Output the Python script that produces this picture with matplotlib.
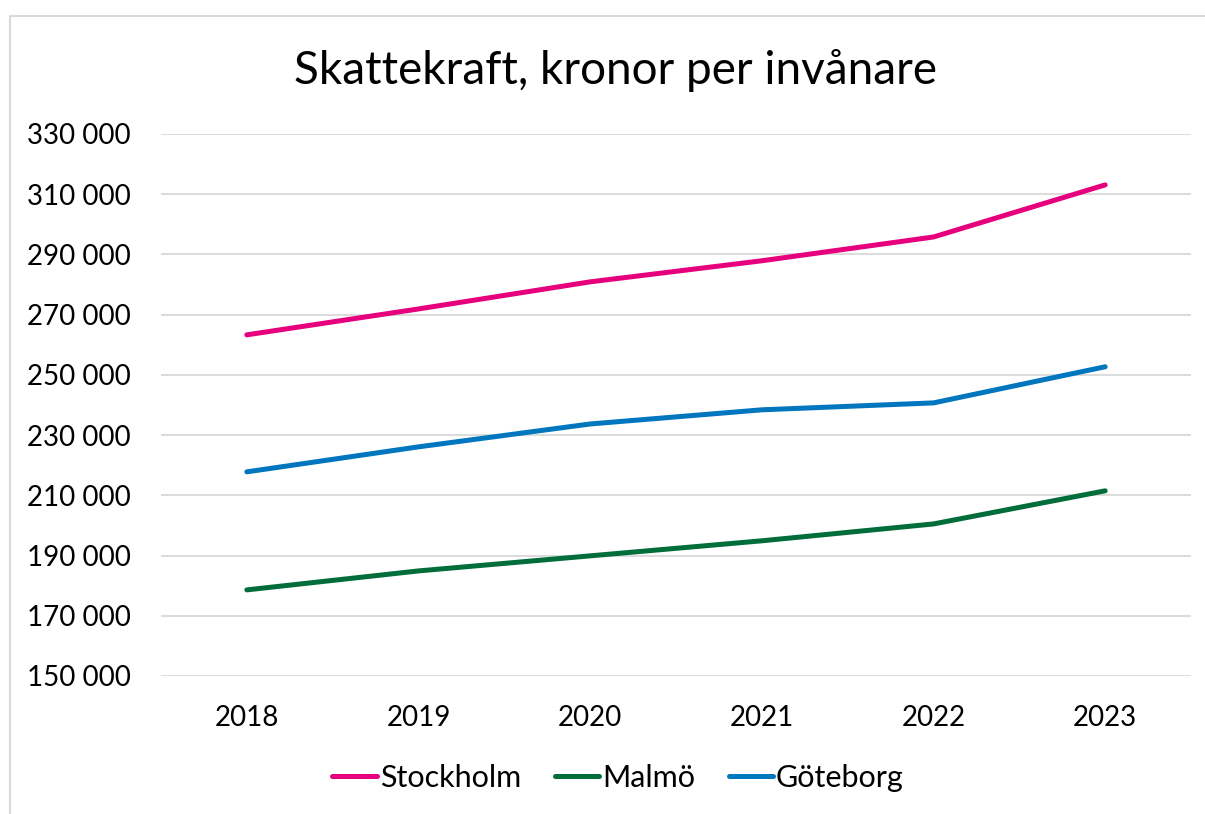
import matplotlib.pyplot as plt
from matplotlib.patches import Rectangle
from matplotlib.ticker import FuncFormatter

years = ["2018", "2019", "2020", "2021", "2022", "2023"]
stockholm = [263300, 271900, 280900, 287900, 295800, 313100]
malmo = [178600, 184900, 189900, 194900, 200500, 211500]
goteborg = [217800, 226100, 233700, 238400, 240700, 252700]

plt.rcParams['font.family'] = ['Lato', 'DejaVu Sans']

fig = plt.figure(figsize=(12.05, 8.14), dpi=100)
ax = fig.add_axes([161/1205, 1-676/814, 1030/1205, 542/814])

# chart frame (cropped on right/bottom like the original)
fig.patches.append(Rectangle((10/1205, -0.1), 1.2, 1.1 - 16/814,
                             transform=fig.transFigure, fill=False,
                             edgecolor='#D9D9D9', linewidth=1.5))

x = range(len(years))
ax.plot(x, stockholm, color='#E6007E', lw=3.6, label='Stockholm', solid_capstyle='round')
ax.plot(x, malmo, color='#006D3B', lw=3.6, label='Malmö', solid_capstyle='round')
ax.plot(x, goteborg, color='#0076BF', lw=3.6, label='Göteborg', solid_capstyle='round')

ax.set_xlim(-0.5, len(years) - 0.5)
ax.set_ylim(150000, 330000)
ax.set_yticks(range(150000, 330001, 20000))
ax.yaxis.set_major_formatter(FuncFormatter(lambda v, p: f"{int(v):,}".replace(",", " ")))
ax.set_xticks(list(x))
ax.set_xticklabels(years)
ax.tick_params(length=0, labelsize=20, colors='black')
ax.tick_params(axis='y', pad=22)
ax.tick_params(axis='x', pad=21)
ax.grid(axis='y', color='#D9D9D9', lw=1.3)
ax.set_axisbelow(True)
for s in ax.spines.values():
    s.set_visible(False)

fig.text(616/1205, 1-70/814, "Skattekraft, kronor per invånare", ha='center', va='center', fontsize=33)

fig.legend(loc='center', bbox_to_anchor=(618/1205, 1-778/814), ncol=3, frameon=False,
           fontsize=22, handlelength=1.45, handletextpad=0.1, columnspacing=1.1)

fig.savefig("out.png", dpi=100)
